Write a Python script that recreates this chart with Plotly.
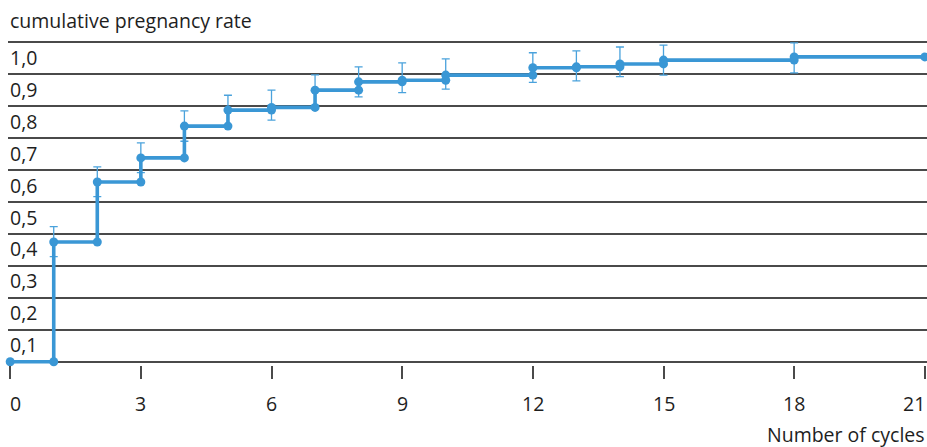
import plotly.graph_objects as go

# ---- data ----
cycles = [0, 1, 2, 3, 4, 5, 6, 7, 8, 9, 10, 12, 13, 14, 15, 18, 21]
rate = [0.0, 0.375, 0.5625, 0.638, 0.7375, 0.7875, 0.796, 0.85, 0.876, 0.881,
        0.897, 0.92, 0.923, 0.932, 0.944, 0.954, 0.954]
ci_upper = [None, 0.423, 0.61, 0.685, 0.785, 0.834, 0.85, 0.898, 0.923, 0.935,
            0.948, 0.967, 0.973, 0.985, 0.991, 0.998, None]
ci_lower = [None, 0.329, 0.517, 0.592, 0.69, 0.74, 0.756, 0.80, 0.829, 0.842,
            0.853, 0.874, 0.879, 0.892, 0.897, 0.904, None]
x_ticks = [0, 3, 6, 9, 12, 15, 18, 21]
x_tick_labels = ["0", "3", "6", "9", "12", "15", "18", "21"]
y_ticks = [0.1, 0.2, 0.3, 0.4, 0.5, 0.6, 0.7, 0.8, 0.9, 1.0]
y_tick_labels = ["0,1", "0,2", "0,3", "0,4", "0,5", "0,6", "0,7", "0,8", "0,9", "1,0"]

BLUE = "#3a97d5"
EBLUE = "#4aa2dc"
GRID = "#4a4a4a"
TXT = "#1e1e1e"
FONT = "Open Sans"
FS = 19.5

err_vis_x = [c for c, u in zip(cycles, ci_upper) if u is not None]
err_vis_y = [r for r, u in zip(rate, ci_upper) if u is not None]
err_vis_p = [u - r for r, u in zip(rate, ci_upper) if u is not None]
err_vis_m = [r - l for r, l in zip(rate, ci_lower) if l is not None]

# markers at the level before each step
before_x = cycles[1:-1]
before_y = rate[:-2]

fig = go.Figure()
fig.add_trace(go.Scatter(
    x=err_vis_x, y=err_vis_y, mode="markers",
    marker=dict(size=1, color="rgba(0,0,0,0)"),
    error_y=dict(type="data", array=err_vis_p, arrayminus=err_vis_m,
                 symmetric=False, color=EBLUE, thickness=1.3, width=4),
    cliponaxis=False, hoverinfo="skip", showlegend=False))
fig.add_trace(go.Scatter(
    x=cycles, y=rate, mode="lines+markers", line=dict(shape="hv", color=BLUE, width=3.6),
    marker=dict(size=9, color=BLUE), cliponaxis=False, showlegend=False))
fig.add_trace(go.Scatter(
    x=before_x, y=before_y, mode="markers",
    marker=dict(size=9, color=BLUE), cliponaxis=False, showlegend=False))

annotations = []
for v, t in zip(y_ticks, y_tick_labels):
    annotations.append(dict(x=0, xref="x", xanchor="left", xshift=-2, y=v, yref="y",
                            yanchor="middle", yshift=-15, text=t, showarrow=False,
                            font=dict(family=FONT, size=FS, color=TXT)))
for i, (v, t) in enumerate(zip(x_ticks, x_tick_labels)):
    anchor = "center"
    shift = 0
    if i == 0:
        anchor = "left"
        shift = -2
    elif i == len(x_ticks) - 1:
        anchor = "right"
        shift = 2
    annotations.append(dict(x=v, xref="x", xanchor=anchor, xshift=shift, y=0, yref="y",
                            yanchor="middle", yshift=-42, text=t, showarrow=False,
                            font=dict(family=FONT, size=FS, color=TXT)))
annotations.append(dict(x=0, xref="x", xanchor="left", xshift=-2, y=1, yref="y",
                        yanchor="middle", yshift=22, text="cumulative pregnancy rate",
                        showarrow=False, font=dict(family=FONT, size=FS, color=TXT)))
annotations.append(dict(x=21, xref="x", xanchor="right", xshift=2, y=0, yref="y",
                        yanchor="middle", yshift=-73, text="Number of cycles",
                        showarrow=False, font=dict(family=FONT, size=FS, color=TXT)))

fig.update_layout(
    width=927, height=447,
    margin=dict(l=8, r=0, t=39, b=82, pad=0),
    paper_bgcolor="white", plot_bgcolor="white",
    annotations=annotations,
    xaxis=dict(range=[-0.05, 21.05], tickvals=x_ticks, showticklabels=False,
               ticks="outside", ticklen=13, tickwidth=1.5, tickcolor=GRID,
               showgrid=False, zeroline=False, showline=False, fixedrange=True),
    yaxis=dict(range=[-0.01, 1.01], tickvals=[0] + y_ticks, showticklabels=False,
               showgrid=True, gridcolor=GRID, gridwidth=1.5, zeroline=False,
               showline=False, fixedrange=True),
)

fig.write_html("out.html", config={"displayModeBar": False},
               post_script="document.body.style.margin='0px';")
